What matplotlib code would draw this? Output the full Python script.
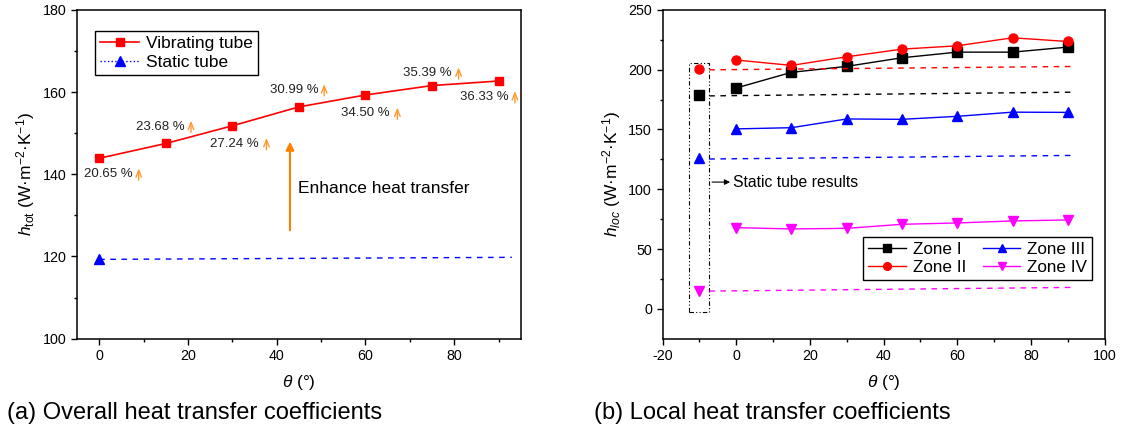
#coeficientes de transferencia de calor: tubo vibrante vs tubo estatico
import numpy as np
import matplotlib
matplotlib.use('Agg')
import matplotlib.pyplot as plt
from matplotlib.lines import Line2D
from matplotlib.patches import Rectangle

plt.rcParams['font.family'] = ['Liberation Sans', 'DejaVu Sans']
plt.rcParams['mathtext.fontset'] = 'custom'
plt.rcParams['mathtext.rm'] = 'Liberation Sans'
plt.rcParams['mathtext.it'] = 'Liberation Sans:italic'
plt.rcParams['axes.unicode_minus'] = False

#datos (a)
theta = [0, 15, 30, 45, 60, 75, 90]
h_vib = [143.9, 147.5, 151.8, 156.4, 159.3, 161.6, 162.7]
static_x = [0, 93]
static_h = [119.3, 119.8]
pct_labels = ['20.65 %', '23.68 %', '27.24 %', '30.99 %', '34.50 %', '35.39 %', '36.33 %']
pct_x = [-3.5, 8.4, 25.0, 38.4, 54.6, 68.5, 81.4]
pct_y = [140.0, 151.6, 147.4, 160.5, 154.8, 164.6, 158.8]
arr_x = [8.9, 20.7, 37.7, 50.7, 67.2, 81.0, 93.7]

#datos (b)
zone1 = [184.7, 197.8, 202.8, 210.0, 214.7, 214.7, 218.9]
zone2 = [208.1, 203.6, 210.8, 217.2, 220.0, 226.7, 223.6]
zone3 = [150.5, 151.5, 158.8, 158.5, 161.0, 164.5, 164.3]
zone4 = [67.9, 66.8, 67.3, 70.7, 71.8, 73.5, 74.3]
static_theta = -10
static_zone = [178.6, 200.8, 126.1, 14.8]   # I, II, III, IV
line_x = [-7.3, 91.0]
line_zone = [[178.1, 181.2], [199.9, 202.7], [125.3, 128.3], [14.8, 17.9]]
zone_names = ['Zone I', 'Zone II', 'Zone III', 'Zone IV']
zone_colors = ['black', 'red', 'blue', '#FF00FF']
zone_markers = ['s', 'o', '^', 'v']

fig = plt.figure(figsize=(11.21, 4.32), dpi=100)
ax1 = fig.add_axes([0.0687, 0.216, 0.3958, 0.761])
ax2 = fig.add_axes([0.591, 0.216, 0.3944, 0.761])

def estilo(ax):
    ax.tick_params(which='both', direction='out', labelsize=10.3, width=1)
    ax.tick_params(which='major', length=4)
    ax.tick_params(which='minor', length=2.5)
    for s in ax.spines.values():
        s.set_linewidth(1.1)

#-------- (a)
ax1.plot(theta, h_vib, '-s', color='red', lw=1.2, ms=6, label='Vibrating tube')
ax1.plot(static_x, static_h, '--', color='blue', lw=1, dashes=(4, 4))
ax1.plot(static_x[0], static_h[0], '^', color='blue', ms=6.5)
for lab, x, y, xa in zip(pct_labels, pct_x, pct_y, arr_x):
    ax1.text(x, y, lab, fontsize=9.5, va='center', ha='left', color='#222222')
    ax1.annotate('', xy=(xa, y + 2.1), xytext=(xa, y - 2.1),
                 arrowprops=dict(arrowstyle='->,head_length=0.5,head_width=0.2',
                                 color='#FF9A30', lw=1.0))
ax1.annotate('', xy=(43, 148.6), xytext=(43, 125.7),
             arrowprops=dict(arrowstyle='-|>', color='#FF8000', lw=1.5, mutation_scale=12))
ax1.text(44.7, 136.5, 'Enhance heat transfer', fontsize=12.5, va='center')

ax1.set_xlim(-5, 95)
ax1.set_ylim(100, 180)
ax1.set_xticks([0, 20, 40, 60, 80])
ax1.set_xticks(np.arange(10, 95, 20), minor=True)
ax1.set_yticks([100, 120, 140, 160, 180])
ax1.set_yticks([110, 130, 150, 170], minor=True)
estilo(ax1)
ax1.set_xlabel(r'$\theta$ (°)', fontsize=12.5, labelpad=7)
ax1.set_ylabel(r'$h_{\mathrm{tot}}$ (W·m$^{-2}$·K$^{-1}$)', fontsize=12.5, labelpad=4)
h_leg = [Line2D([], [], color='red', marker='s', ms=6, lw=1.2),
         Line2D([], [], color='blue', marker='^', ms=6.5, lw=1, ls=':')]
ax1.legend(h_leg, ['Vibrating tube', 'Static tube'], loc='upper left',
           bbox_to_anchor=(0.041, 0.936), borderaxespad=0, fontsize=12.5,
           fancybox=False, edgecolor='black', framealpha=1, handlelength=2.2,
           handletextpad=0.4, borderpad=0.3, labelspacing=0.2)

#-------- (b)
for z, c, m, nm in zip([zone1, zone2, zone3, zone4], zone_colors, zone_markers, zone_names):
    ax2.plot(theta, z, '-', marker=m, color=c, lw=1, ms=6.5, label=nm)
for sv, ly, c, m in zip(static_zone, line_zone, zone_colors, zone_markers):
    ax2.plot(static_theta, sv, m, color=c, ms=6.5)
    ax2.plot(line_x, ly, '--', color=c, lw=1, dashes=(4, 4))
ax2.add_patch(Rectangle((-12.7, -2.8), 5.4, 208.4, fill=False, ec='black',
                        lw=0.8, ls=(0, (4, 2, 1, 2, 1, 2))))
ax2.annotate('', xy=(-0.9, 106), xytext=(-7.3, 106),
             arrowprops=dict(arrowstyle='-|>', color='black', lw=0.8, mutation_scale=8))
ax2.text(-0.8, 106, 'Static tube results', fontsize=11.3, va='center')

ax2.set_xlim(-20, 100)
ax2.set_ylim(-25, 250)
ax2.set_xticks(np.arange(-20, 101, 20))
ax2.set_xticks(np.arange(-10, 100, 20), minor=True)
ax2.set_yticks(np.arange(0, 251, 50))
ax2.set_yticks(np.arange(25, 250, 50), minor=True)
estilo(ax2)
ax2.set_xlabel(r'$\theta$ (°)', fontsize=12.5, labelpad=7)
ax2.set_ylabel(r'$h_{loc}$ (W·m$^{-2}$·K$^{-1}$)', fontsize=12.5, labelpad=4)
ax2.legend(loc='upper right', bbox_to_anchor=(0.972, 0.31), borderaxespad=0,
           ncol=2, fontsize=12.3, fancybox=False, edgecolor='black', framealpha=1,
           handlelength=2.2, handletextpad=0.4, borderpad=0.3, labelspacing=0.2,
           columnspacing=1.0, markerscale=0.85)

fig.text(0.006, 0.044, '(a) Overall heat transfer coefficients', fontsize=17, va='center')
fig.text(0.53, 0.044, '(b) Local heat transfer coefficients', fontsize=17, va='center')

plt.savefig('out.png', dpi=100)
